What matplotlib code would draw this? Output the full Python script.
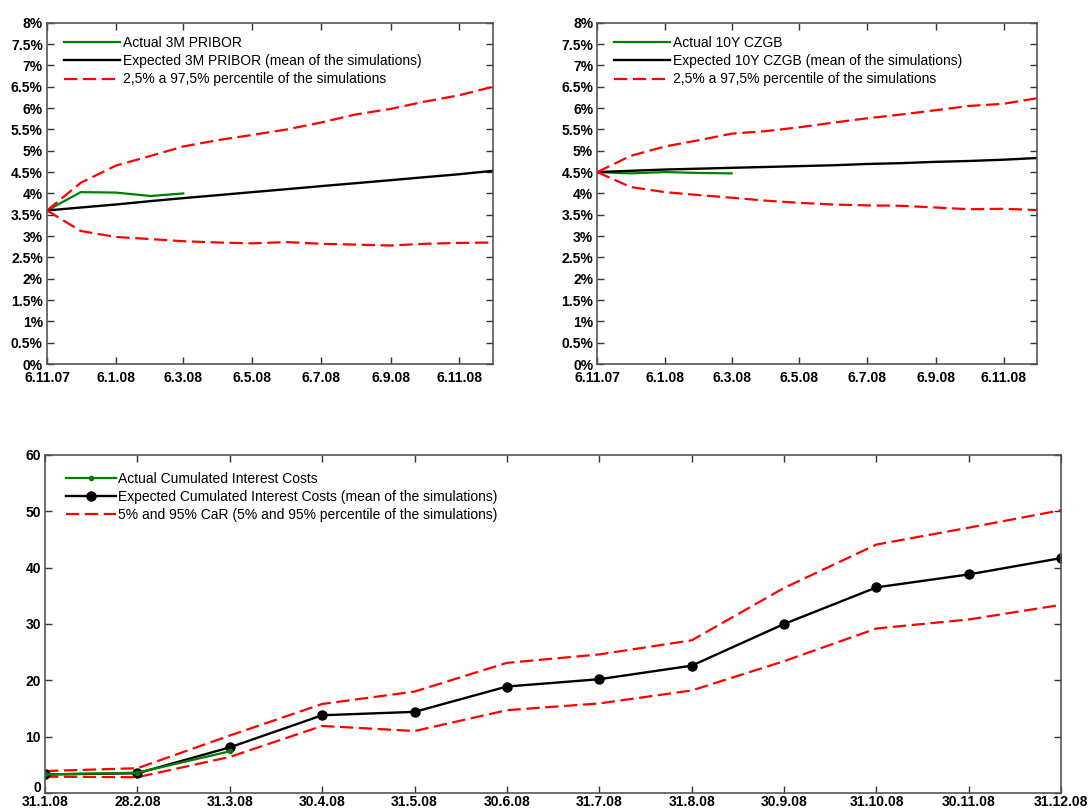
import datetime as dt
import numpy as np
import matplotlib
matplotlib.use("Agg")
import matplotlib.pyplot as plt
import matplotlib.dates as mdates
import matplotlib.transforms as mtransforms
from matplotlib.ticker import FuncFormatter, MultipleLocator

plt.rcParams["font.family"] = ["Liberation Sans", "DejaVu Sans"]

# ---------------------------------------------------------------
# data
# ---------------------------------------------------------------
months = [dt.date(2007, 11, 6), dt.date(2007, 12, 6)] + \
         [dt.date(2008, m, 6) for m in range(1, 13)]

# 3M PRIBOR, %
pribor_actual = [3.60, 4.03, 4.02, 3.94, 4.00]
pribor_mean   = [3.60, 3.67, 3.74, 3.82, 3.89, 3.96, 4.03, 4.10, 4.17,
                 4.24, 4.31, 4.38, 4.45, 4.53]
pribor_hi     = [3.60, 4.25, 4.65, 4.88, 5.10, 5.25, 5.37, 5.50, 5.66,
                 5.85, 5.98, 6.15, 6.30, 6.50]
pribor_lo     = [3.60, 3.12, 2.98, 2.93, 2.88, 2.85, 2.83, 2.86, 2.82,
                 2.80, 2.78, 2.82, 2.84, 2.85]

# 10Y CZGB, %
czgb_actual = [4.50, 4.47, 4.50, 4.48, 4.47]
czgb_mean   = [4.50, 4.53, 4.56, 4.58, 4.60, 4.62, 4.64, 4.66, 4.69,
               4.71, 4.74, 4.76, 4.79, 4.83]
czgb_hi     = [4.50, 4.88, 5.10, 5.25, 5.40, 5.46, 5.55, 5.66, 5.76,
               5.85, 5.95, 6.05, 6.10, 6.23]
czgb_lo     = [4.50, 4.15, 4.03, 3.96, 3.90, 3.83, 3.78, 3.74, 3.72,
               3.71, 3.67, 3.63, 3.64, 3.61]

# cumulated interest costs
car_labels = ["31.1.08", "28.2.08", "31.3.08", "30.4.08", "31.5.08", "30.6.08",
              "31.7.08", "31.8.08", "30.9.08", "31.10.08", "30.11.08", "31.12.08"]
cost_actual = [3.3, 3.6, 7.4]
cost_mean   = [3.3, 3.5, 8.1, 13.8, 14.4, 18.9, 20.2, 22.6, 30.0, 36.5, 38.8, 41.7]
cost_hi     = [3.9, 4.4, 10.2, 15.8, 18.0, 23.1, 24.6, 27.1, 36.4, 44.1, 47.1, 50.2]
cost_lo     = [2.9, 2.8, 6.4, 11.9, 11.0, 14.7, 15.9, 18.2, 23.4, 29.2, 30.8, 33.4]

SPINE = "#555555"
RED = "#ff0000"
GREEN = "#008000"
DASH = (0, (6, 2.5))


def style_axes(ax, xpad):
    for s in ax.spines.values():
        s.set_color(SPINE)
        s.set_linewidth(1.2)
    ax.tick_params(direction="in", top=True, right=True, length=5,
                   width=1, color="#333333", labelsize=10)
    ax.tick_params(axis="x", pad=xpad)
    ax.tick_params(axis="y", pad=3)
    for lab in ax.get_xticklabels() + ax.get_yticklabels():
        lab.set_fontweight("bold")


def rate_panel(ax, actual, mean, hi, lo, name):
    ax.plot(months[:len(actual)], actual, color=GREEN, lw=1.6,
            label=f"Actual {name}")
    ax.plot(months, mean, color="black", lw=1.7,
            label=f"Expected {name} (mean of the simulations)")
    ax.plot(months, hi, color=RED, lw=1.6, ls=DASH,
            label="2,5% a 97,5% percentile of the simulations")
    ax.plot(months, lo, color=RED, lw=1.6, ls=DASH)
    ax.set_xlim(months[0], months[-1])
    ax.set_ylim(0, 8)
    ax.yaxis.set_major_locator(MultipleLocator(0.5))
    ax.yaxis.set_major_formatter(FuncFormatter(lambda v, p: f"{v:g}%"))
    ax.xaxis.set_major_locator(mdates.MonthLocator(bymonth=[1, 3, 5, 7, 9, 11],
                                                   bymonthday=6))
    ax.xaxis.set_major_formatter(FuncFormatter(
        lambda v, p: (lambda d: f"{d.day}.{d.month}.{d:%y}")(mdates.num2date(v))))
    ax.legend(loc="upper left", frameon=False, fontsize=10, handlelength=4.0,
              handletextpad=0.2, labelspacing=0.3, borderaxespad=0.2,
              bbox_to_anchor=(0.02, 0.985))
    style_axes(ax, 5)


fig = plt.figure(figsize=(10.88, 8.11), dpi=100)

ax1 = fig.add_axes([0.0432, 0.551, 0.410, 0.421])
rate_panel(ax1, pribor_actual, pribor_mean, pribor_hi, pribor_lo, "3M PRIBOR")

ax2 = fig.add_axes([0.549, 0.551, 0.404, 0.421])
rate_panel(ax2, czgb_actual, czgb_mean, czgb_hi, czgb_lo, "10Y CZGB")

ax3 = fig.add_axes([0.0414, 0.0222, 0.934, 0.4168])
x = np.arange(len(car_labels))
ax3.plot(x, cost_hi, color=RED, lw=1.6, ls=DASH,
         label="5% and 95% CaR (5% and 95% percentile of the simulations)")
ax3.plot(x, cost_lo, color=RED, lw=1.6, ls=DASH)
ax3.plot(x, cost_mean, color="black", lw=1.7, marker="o", ms=6.5,
         label="Expected Cumulated Interest Costs (mean of the simulations)")
ax3.plot(x[:len(cost_actual)], cost_actual, color=GREEN, lw=1.6, marker="o",
         ms=3, label="Actual Cumulated Interest Costs")
ax3.set_xlim(0, len(car_labels) - 1)
ax3.set_ylim(0, 60)
ax3.set_xticks(x)
ax3.set_xticklabels(car_labels)
ax3.set_yticks(np.arange(0, 61, 10))
h, l = ax3.get_legend_handles_labels()
ax3.legend(h[::-1], l[::-1], loc="upper left", frameon=False, fontsize=10,
           handlelength=3.6, handletextpad=0.2, labelspacing=0.3,
           borderaxespad=0.2, bbox_to_anchor=(0.012, 0.975))
style_axes(ax3, 1.5)

# lift the "0" label a little so it clears the first date label
zero_lab = ax3.get_yticklabels()[0]
zero_lab.set_transform(zero_lab.get_transform() +
                       mtransforms.ScaledTranslation(0, 5 / 72, fig.dpi_scale_trans))

fig.savefig("out.png", dpi=100)
